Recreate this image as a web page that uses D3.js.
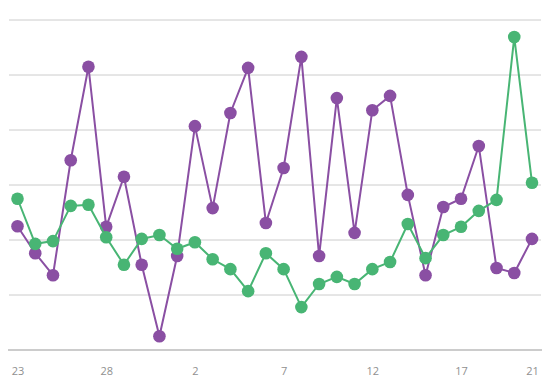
<!DOCTYPE html>
<html><head><meta charset="utf-8">
<script src="https://cdn.jsdelivr.net/npm/d3@7"></script>
<style>body{margin:0;background:#fff;}svg{display:block;}</style>
</head><body>
<svg id="c" width="552" height="382"></svg>
<script>
const days = [23,24,25,26,27,28,29,30,31,1,2,3,4,5,6,7,8,9,10,11,12,13,14,15,16,17,18,19,20,21];
const purple = [2.25,1.76,1.36,3.45,5.15,2.24,3.15,1.55,0.25,1.71,4.07,2.58,4.31,5.13,2.31,3.31,5.33,1.71,4.58,2.13,4.36,4.62,2.82,1.36,2.6,2.75,3.71,1.49,1.40,2.02];
const green = [2.75,1.93,1.98,2.62,2.64,2.05,1.55,2.02,2.09,1.84,1.96,1.65,1.47,1.07,1.76,1.47,0.78,1.2,1.33,1.2,1.47,1.6,2.29,1.67,2.09,2.24,2.53,2.73,5.69,3.04];
const tickIdx = [0,5,10,15,20,25,29];
const gridVals = [1,2,3,4,5,6];

const svg = d3.select("#c");
const x = d3.scaleLinear().domain([0, days.length-1]).range([17.5, 532]);
const y = d3.scaleLinear().domain([0, 6]).range([350, 20]);

svg.append("g").selectAll("line").data(gridVals).join("line")
  .attr("x1", 9).attr("x2", 541)
  .attr("y1", d => y(d)).attr("y2", d => y(d))
  .attr("stroke", "#cccccc").attr("stroke-width", 1);

const xAxis = d3.axisBottom(x).tickValues(tickIdx).tickFormat(i => days[i]).tickSize(0).tickPadding(17);
const ax = svg.append("g").attr("transform", `translate(0,${y(0)})`).call(xAxis);
ax.select(".domain").remove();
ax.selectAll("text").attr("fill", "#909090").style("font-family", "'Open Sans', sans-serif").style("font-size", "11px");
svg.append("line").attr("x1", 8).attr("x2", 542).attr("y1", y(0)).attr("y2", y(0))
  .attr("stroke", "#cccccc").attr("stroke-width", 2);

function series(vals, color) {
  const line = d3.line().x((d, i) => x(i)).y(d => y(d));
  const g = svg.append("g");
  g.append("path").datum(vals).attr("d", line).attr("fill", "none")
    .attr("stroke", color).attr("stroke-width", 2);
  g.selectAll("circle").data(vals).join("circle")
    .attr("cx", (d, i) => x(i)).attr("cy", d => y(d)).attr("r", 6.3)
    .attr("fill", color);
}
series(purple, "#8a4fa3");
series(green, "#48b574");
</script>
</body></html>
